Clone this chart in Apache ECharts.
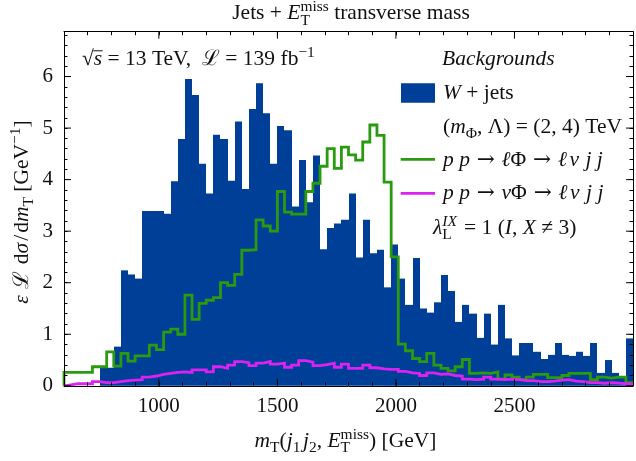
<!DOCTYPE html>
<html><head><meta charset="utf-8">
<script src="https://cdn.jsdelivr.net/npm/echarts@6/dist/echarts.min.js"></script>
<style>html,body{margin:0;padding:0;background:#fff}#c{width:636px;height:461px}</style>
</head><body><div id="c"></div>
<script>
// ---- data (bins of 30 GeV from 600 GeV) ----
const binStart = 600, binWidth = 30;
const wjets = [
  0,0,0,0,0, 0.35,0.35,0.76,2.24,2.16,
  2.08,3.39,3.39,3.39,3.34, 3.97,4.79,5.95,5.64,4.31,
  3.73,4.87,4.79,3.98,5.13, 3.82,5.37,5.87,5.29,4.31,
  5.04,4.96,3.48,4.38,3.56, 4.47,2.65,3.06,3.15,3.22,
  3.73,2.49,3.22,2.57,2.64, 1.91,2.74,2.08,1.57,2.48,
  1.50,1.42,1.62,2.15,1.84, 1.24,1.57,1.40,0.93,1.40,
  0.80,1.57,0.92,0.59,0.83, 0.83,0.66,0.52,0.60,0.83,
  0.60,0.58,0.66,0.58,0.83, 0.25,0.50,0.25,0.17,0.92
];
const lepPhi = [
  0.26,0.26,0.26,0.26,0.37, 0.37,0.66,0.38,0.63,0.48,
  0.58,0.58,0.79,0.70,1.04, 1.10,1.00,1.76,1.29,1.60,
  1.66,1.71,2.00,1.95,2.16, 2.63,2.64,3.22,3.10,3.00,
  3.77,3.37,3.33,3.33,3.77, 3.93,4.26,4.60,4.22,4.63,
  4.48,4.38,4.73,5.06,4.86, 3.95,2.50,0.81,0.68,0.53,
  0.47,0.63,0.40,0.34,0.29, 0.37,0.51,0.24,0.25,0.24,
  0.27,0.13,0.21,0.17,0.12, 0.17,0.22,0.22,0.16,0.16,
  0.20,0.24,0.24,0.24,0.12, 0.17,0.15,0.17,0.17,0.06
];
const nuPhi = [
  0.02,0.04,0.04,0.04,0.08, 0.06,0.06,0.08,0.10,0.11,
  0.12,0.17,0.19,0.22,0.24, 0.26,0.27,0.26,0.31,0.31,
  0.27,0.37,0.34,0.40,0.47, 0.45,0.39,0.44,0.47,0.42,
  0.44,0.36,0.40,0.49,0.46, 0.39,0.41,0.44,0.36,0.42,
  0.34,0.34,0.40,0.35,0.33, 0.32,0.32,0.28,0.25,0.24,
  0.20,0.25,0.22,0.23,0.20, 0.19,0.13,0.12,0.13,0.17,
  0.13,0.12,0.13,0.12,0.10, 0.10,0.08,0.08,0.09,0.11,
  0.12,0.09,0.08,0.06,0.06, 0.05,0.06,0.05,0.04,0.03
];
const xTickLabels = [1000, 1500, 2000, 2500];
const yTickLabels = [0, 1, 2, 3, 4, 5, 6];

// ---- styling ----
const BLUE = '#003f97', GREEN = '#2a9a0e', MAGENTA = '#dc22f0', INK = '#111';
const FAM = '"Liberation Serif","DejaVu Serif","DejaVu Sans",serif';
const FAM_SYM = '"DejaVu Serif","Liberation Serif",serif';
const S = 21.5;

const mctx = document.createElement('canvas').getContext('2d');
function fontStr(sz, it, fam){ return (it ? 'italic ' : '') + sz + 'px ' + (fam || FAM); }
function tw(t, sz, it, fam){ mctx.font = fontStr(sz, it, fam); return mctx.measureText(t).width; }

// token: {t, i, s, dy, over, k, f}  or {st:[sub, sup]}
function layoutMath(tokens, size){
  const out = []; let x = 0;
  for (const tk of tokens){
    if (tk.st){
      let wmax = 0;
      const parts = [[tk.st[0], -0.22], [tk.st[1], 0.40]];
      for (const [p, dy] of parts){
        if (!p) continue;
        const sz = size * 0.72;
        out.push({t:p.t, i:p.i, sz, x, dy: dy*size});
        wmax = Math.max(wmax, tw(p.t, sz, p.i));
      }
      x += wmax + (tk.k||0)*size;
    } else {
      const sz = size * (tk.s || 1);
      const w = tw(tk.t, sz, tk.i, tk.f);
      out.push({t:tk.t, i:tk.i, f:tk.f, sz, x, dy:(tk.dy||0)*size, over:tk.over, w});
      x += w + (tk.k||0)*size;
    }
  }
  return {items: out, width: x};
}
function mathGroup(tokens, size, x, y, align, rotation){
  const L = layoutMath(tokens, size);
  const x0 = align === 'center' ? -L.width/2 : (align === 'right' ? -L.width : 0);
  const children = [];
  for (const it of L.items){
    children.push({type:'text', x: x0 + it.x, y: -it.dy - 0.32*it.sz,
      style:{text: it.t, font: fontStr(it.sz, it.i, it.f), fill: INK,
        textAlign:'left', align:'left', textVerticalAlign:'middle', verticalAlign:'middle'}});
    if (it.over){
      children.push({type:'line', shape:{x1: x0 + it.x - 0.5, y1: -0.74*size, x2: x0 + it.x + it.w + 0.5, y2: -0.74*size},
        style:{stroke: INK, lineWidth: 1}});
    }
  }
  return {type:'group', x, y, rotation: rotation || 0, children, silent:true};
}
const sub = (t, k) => ({t, s:0.72, dy:-0.22, k: k || 0});
const sup = t => ({t, s:0.72, dy:0.40});
const arrow = {t:' → ', f:FAM_SYM};

const graphics = [
  mathGroup([{t:'Jets + '},{t:'E',i:1},{st:[{t:'T'},{t:'miss'}]},{t:' transverse mass'}], S, 351, 20.7, 'center'),
  mathGroup([{t:'√'},{t:'s',i:1,over:true},{t:' = 13 TeV,  '},{t:'ℒ',f:FAM_SYM},{t:' = 139 fb'},sup('−1')], S, 82, 66.7, 'left'),
  mathGroup([{t:'Backgrounds',i:1}], S, 442, 66.7, 'left'),
  mathGroup([{t:'W',i:1},{t:' + jets'}], S, 443, 100, 'left'),
  mathGroup([{t:'('},{t:'m',i:1},sub('Φ'),{t:', Λ) = (2, 4) TeV'}], S, 443, 134.5, 'left'),
  mathGroup([{t:'p p',i:1},arrow,{t:'ℓ',i:1},{t:'Φ'},arrow,{t:'ℓ',i:1,k:0.12},{t:'ν',i:1,k:0.3},{t:'j j',i:1}], S, 443, 167, 'left'),
  mathGroup([{t:'p p',i:1},arrow,{t:'ν',i:1},{t:'Φ'},arrow,{t:'ℓ',i:1,k:0.12},{t:'ν',i:1,k:0.3},{t:'j j',i:1}], S, 443, 200.5, 'left'),
  mathGroup([{t:'λ',i:1},{st:[{t:'L'},{t:'IX',i:1}],k:0.08},{t:' = 1 ('},{t:'I',i:1},{t:', '},{t:'X',i:1},{t:' ≠ 3)'}], S, 433, 235, 'left'),
  mathGroup([{t:'m',i:1},sub('T'),{t:'('},{t:'j',i:1},sub('1',0.12),{t:'j',i:1},sub('2'),{t:', '},{t:'E',i:1},{st:[{t:'T'},{t:'miss'}]},{t:') [GeV]'}], S, 345.5, 448, 'center'),
  mathGroup([{t:'ε',i:1,k:0.3},{t:'ℒ',f:FAM_SYM,k:0.3},{t:'d'},{t:'σ',i:1,k:0.1},{t:'/',k:0.1},{t:'d'},{t:'m',i:1},sub('T'),{t:' [GeV'},sup('−1'),{t:']'}], S, 29, 212, 'center', Math.PI/2),
  // legend swatches
  {type:'rect', shape:{x:401, y:83.3, width:34, height:19.4}, style:{fill: BLUE}, silent:true},
  {type:'line', shape:{x1:400.7, y1:159.3, x2:435, y2:159.3}, style:{stroke: GREEN, lineWidth:2.8}, silent:true},
  {type:'line', shape:{x1:400.7, y1:193.3, x2:435, y2:193.3}, style:{stroke: MAGENTA, lineWidth:2.8}, silent:true}
];

function stepData(vals){
  const d = [[binStart, 0]];
  vals.forEach((v, i) => d.push([binStart + i*binWidth, v]));
  d.push([binStart + vals.length*binWidth, vals[vals.length-1]]);
  return d;
}
const isMajorY = v => Math.abs(v - Math.round(v)) < 1e-6 && yTickLabels.includes(Math.round(v));

function xAxisCfg(pos, labels){
  return {type:'value', min:600, max:3000, interval:100, position:pos, z:10,
    axisLine:{show:true, onZero:false, lineStyle:{color:'#000', width:1}},
    axisTick:{show:true, inside:true, length:3.5, lineStyle:{color:'#000', width:1}},
    axisLabel:{show:labels, margin:10, fontFamily:FAM, fontSize:21, color:INK,
      formatter: v => xTickLabels.includes(Math.round(v)) ? String(Math.round(v)) : ''},
    splitLine:{show:false}};
}
function yAxisCfg(pos, labels){
  return {type:'value', min:0, max:6.87, interval:0.2, position:pos, z:10,
    axisLine:{show:true, onZero:false, lineStyle:{color:'#000', width:1}},
    axisTick:{show:true, inside:true, length:3.5, lineStyle:{color:'#000', width:1}},
    axisLabel:{show:labels, margin:11, fontFamily:FAM, fontSize:21, color:INK,
      formatter: v => isMajorY(v) ? String(Math.round(v)) : ''},
    splitLine:{show:false}};
}

const chart = echarts.init(document.getElementById('c'), null, {renderer:'canvas'});
chart.setOption({
  animation:false,
  backgroundColor:'#fff',
  grid:{left:64, top:31.7, width:576, height:354.1, containLabel:false},
  xAxis:[xAxisCfg('bottom', true), xAxisCfg('top', false)],
  yAxis:[yAxisCfg('left', true), yAxisCfg('right', false)],
  graphic: graphics,
  series:[
    {type:'custom', name:'W + jets', z:1, silent:true,
      data: wjets.map((v, i) => [binStart + i*binWidth, binStart + (i+1)*binWidth, v]),
      encode:{x:[0,1], y:2},
      renderItem:(params, api) => {
        const v = api.value(2);
        if (!(v > 0)) return null;
        const p0 = api.coord([api.value(0), v]);
        const p1 = api.coord([api.value(1), 0]);
        const xa = Math.round(p0[0]), xb = Math.round(p1[0]);
        return {type:'rect', shape:{x:xa, y:p0[1], width:xb-xa, height:p1[1]-p0[1]},
          style:{fill: BLUE, stroke:null, lineWidth:0}};
      }},
    {type:'line', name:'lepPhi', step:'end', data: stepData(lepPhi), showSymbol:false, symbol:'none',
      lineStyle:{color: GREEN, width:2.8, join:'miter'}, clip:false, z:3, silent:true},
    {type:'line', name:'nuPhi', step:'end', data: stepData(nuPhi), showSymbol:false, symbol:'none',
      lineStyle:{color: MAGENTA, width:2.8, join:'miter'}, clip:false, z:4, silent:true},
    {type:'custom', z:12, silent:true, clip:false,
      data: xTickLabels.map(v => [v, 0]), encode:{x:0, y:1},
      renderItem:(params, api) => {
        const cs = params.coordSys; const p = api.coord([api.value(0), 0]);
        const yb = cs.y + cs.height, yt = cs.y;
        return {type:'group', children:[
          {type:'line', shape:{x1:p[0], y1:yb, x2:p[0], y2:yb-7}, style:{stroke:'#000', lineWidth:1}},
          {type:'line', shape:{x1:p[0], y1:yt, x2:p[0], y2:yt+7}, style:{stroke:'#000', lineWidth:1}}]};
      }},
    {type:'custom', z:12, silent:true, clip:false,
      data: yTickLabels.map(v => [600, v]), encode:{x:0, y:1},
      renderItem:(params, api) => {
        const cs = params.coordSys; const p = api.coord([600, api.value(1)]);
        const xl = cs.x, xr = cs.x + cs.width;
        return {type:'group', children:[
          {type:'line', shape:{x1:xl, y1:p[1], x2:xl+7, y2:p[1]}, style:{stroke:'#000', lineWidth:1}},
          {type:'line', shape:{x1:xr, y1:p[1], x2:xr-7, y2:p[1]}, style:{stroke:'#000', lineWidth:1}}]};
      }}
  ]
});
</script></body></html>
